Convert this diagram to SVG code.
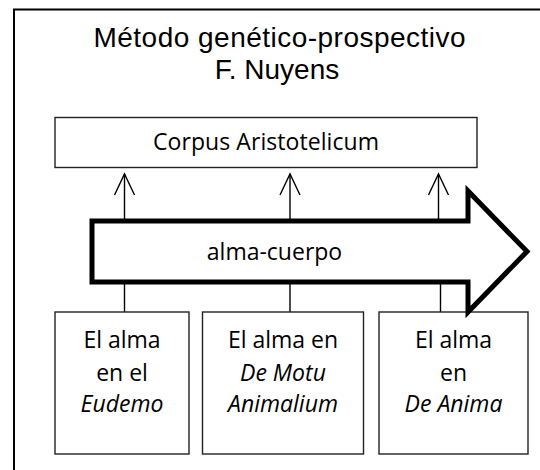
<svg xmlns="http://www.w3.org/2000/svg" width="540" height="470" viewBox="0 0 540 470">
<defs>
<style>
.box{fill:#fff;stroke:#222;stroke-width:1.4}
.ttl{font-family:"Liberation Sans",Arial,sans-serif;font-size:28px;fill:#000;text-anchor:middle}
.lbl{font-family:"Open Sans","Noto Sans",sans-serif;font-size:23px;fill:#000;text-anchor:middle}
.it{font-style:italic}
.conn{stroke:#000;stroke-width:1.4;fill:none}
</style>
<marker id="open" viewBox="0 0 24 24" markerWidth="24" markerHeight="24" refX="22" refY="12" markerUnits="userSpaceOnUse" orient="auto">
<path d="M1,2 L22,12 L1,22" fill="none" stroke="#000" stroke-width="1.4"/>
</marker>
</defs>
<rect width="540" height="470" fill="#fff"/>
<rect id="frame" x="14" y="9.5" width="560" height="500" fill="none" stroke="#000" stroke-width="2"/>
<g id="title">
<text class="ttl" x="279.5" y="46.5" textLength="372">Método genético-prospectivo</text>
<text class="ttl" x="277" y="79">F. Nuyens</text>
</g>
<g id="connectors">
<line class="conn" x1="124.5" y1="221" x2="124.5" y2="174" marker-end="url(#open)"/>
<line class="conn" x1="290" y1="221" x2="290" y2="174" marker-end="url(#open)"/>
<line class="conn" x1="438.5" y1="221" x2="438.5" y2="174" marker-end="url(#open)"/>
<line class="conn" x1="124.5" y1="282" x2="124.5" y2="312"/>
<line class="conn" x1="290" y1="282" x2="290" y2="312"/>
<line class="conn" x1="440.5" y1="282" x2="440.5" y2="312"/>
</g>
<g id="corpus">
<rect class="box" x="55" y="117.5" width="422" height="50"/>
<text class="lbl" x="266" y="149.5" textLength="226">Corpus Aristotelicum</text>
</g>
<g id="eudemo">
<rect class="box" x="55" y="312" width="134" height="142"/>
<text class="lbl" x="122" y="348">El alma</text>
<text class="lbl" x="122" y="381">en el</text>
<text class="lbl it" x="122" y="412">Eudemo</text>
</g>
<g id="motu">
<rect class="box" x="202.5" y="312" width="161" height="142"/>
<text class="lbl" x="283" y="348">El alma en</text>
<text class="lbl it" x="283" y="381">De Motu</text>
<text class="lbl it" x="283" y="412">Animalium</text>
</g>
<g id="anima">
<rect class="box" x="379" y="312" width="149" height="142"/>
<text class="lbl" x="453.5" y="348">El alma</text>
<text class="lbl" x="453.5" y="381">en</text>
<text class="lbl it" x="453.5" y="412">De Anima</text>
</g>
<g id="alma-cuerpo">
<polygon points="92,221 468,221 468,191 527,251.5 468,312 468,282 92,282" fill="#fff" stroke="#000" stroke-width="5" stroke-linejoin="miter"/>
<text class="lbl" x="274.5" y="260">alma-cuerpo</text>
</g>
</svg>
